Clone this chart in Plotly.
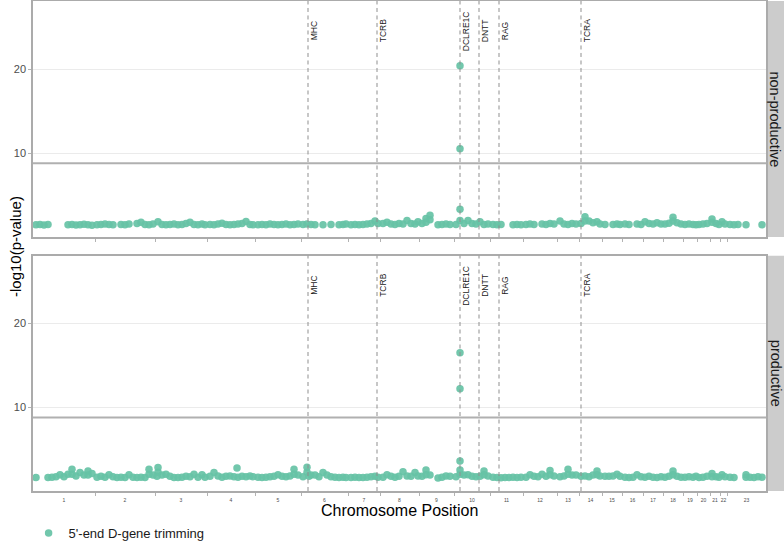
import plotly.graph_objects as go

# ---------------- data ----------------
chrom_labels = [str(i) for i in range(1, 24)]
# cumulative genome position of chromosome boundaries (arbitrary genome index units)
chrom_bounds = [0, 62, 122, 174, 222, 268, 315, 347, 386, 421, 457, 490, 524, 546,
                569, 589, 610, 630, 650, 664, 677, 687, 694, 733]

gene_names = ["MHC", "TCRB", "DCLRE1C", "DNTT", "RAG", "TCRA"]
gene_pos = [275, 344, 427, 446, 466, 548]

threshold = 8.77

snp_pos = [3, 7, 11, 15, 19, 23, 27, 31, 35, 39, 43, 47, 51, 55, 59,
           64, 68, 72, 76, 80, 84, 88, 92, 96, 100, 104, 108, 112, 116, 120,
           125, 129, 133, 137, 141, 145, 149, 153, 157, 161, 165, 169, 172,
           177, 181, 185, 189, 193, 197, 201, 205, 209, 213, 217, 220,
           225, 229, 233, 237, 241, 245, 249, 253, 257, 261, 265,
           270, 274, 278, 282, 286, 290, 294, 298, 302, 306, 310, 313,
           318, 322, 326, 330, 334, 338, 342, 345,
           350, 354, 358, 362, 366, 370, 374, 378, 382, 385,
           389, 393, 397, 401, 405, 409, 413, 417,
           423, 427, 431, 435, 439, 443, 447, 451, 455,
           460, 464, 468, 472, 476, 480, 484, 488,
           493, 497, 501, 505, 509, 513, 517, 521,
           527, 531, 535, 539, 543,
           548, 552, 556, 560, 564, 567,
           572, 576, 580, 584, 587,
           592, 596, 600, 604, 608,
           612, 616, 620, 624, 628,
           632, 636, 640, 644, 648,
           652, 656, 660, 663,
           666, 670, 674,
           679, 683, 686,
           689, 692,
           697, 701, 705, 709, 713, 717, 721, 725, 729]

N = None
nonprod_logp = [1.45, 1.5, 1.42, 1.48, N, N, N, N, 1.45, 1.5, 1.42, 1.47, 1.52, 1.45, 1.4,
                1.45, 1.5, 1.55, 1.48, 1.45, N, 1.5, 1.45, 1.55, N, 1.6, 1.75, 1.5, 1.45, 1.55,
                1.8, 1.5, 1.45, 1.5, 1.55, 1.45, 1.5, 1.6, 1.75, 1.5, 1.45, 1.55, 1.45,
                1.5, 1.45, 1.55, 1.65, 1.5, 1.45, 1.5, 1.55, 1.6, 1.85, 1.5, 1.45,
                1.45, 1.5, 1.45, 1.55, 1.5, 1.45, 1.5, 1.55, 1.45, 1.5, 1.55,
                1.5, 1.55, 1.5, 1.45, N, 1.45, N, 1.5, N, 1.45, 1.5, 1.55,
                1.45, 1.5, 1.45, 1.5, 1.55, 1.6, 1.9, 1.6,
                1.6, 1.75, 1.55, 1.5, 1.6, 1.55, 1.95, 1.6, 1.55, 1.8,
                1.6, 2.2, 2.6, N, 1.45, 1.5, 1.55, 1.5,
                1.5, 1.95, 1.6, 1.95, 1.6, 1.55, 1.8, 1.5, 1.55,
                1.5, 1.45, 1.5, N, N, 1.45, 1.5, 1.45,
                1.5, 1.55, 1.5, N, 1.55, 1.5, 1.6, 1.55,
                1.9, 1.55, 1.5, 1.6, 1.55,
                1.6, 2.4, 1.9, 1.7, 1.8, 1.55,
                1.5, N, 1.5, 1.55, 1.5,
                1.55, 1.5, N, 1.55, 1.5,
                1.8, 1.6, 1.55, 1.7, 1.55,
                1.55, 1.65, 2.35, 1.7, 1.55,
                1.5, 1.55, 1.5, 1.45,
                1.5, 1.55, 1.6,
                2.15, 1.6, 1.5,
                1.8, 1.55,
                1.5, 1.45, 1.5, N, 1.45, N, N, N, 1.45]

prod_logp = [1.6, N, N, 1.62, 1.65, 1.7, 1.95, 1.7, 2.0, 2.6, 1.8, 2.2, 1.9, 2.4, 2.1,
             1.65, 1.75, 1.65, 1.95, 1.7, 1.6, 1.65, 1.6, 1.95, 1.65, 1.6, 1.65, 1.62, 2.6, 1.9,
             2.8, 1.9, 2.0, 1.75, 1.6, 1.62, 1.65, 1.75, 1.7, 2.0, 1.65, 1.95, 1.65,
             1.75, 2.2, 1.8, 1.65, 1.75, 1.8, 1.7, 1.65, 1.75, 1.7, 1.8, 1.7,
             1.65, 1.6, 1.65, 1.7, 1.75, 1.95, 1.75, 1.7, 1.8, 2.6, 1.9,
             1.7, 2.85, 1.9, 1.9, 1.7, 2.2, 1.9, 1.7, 1.65, 1.6, 1.65, 1.6,
             1.6, 1.65, 1.6, 1.62, 1.65, 1.7, 1.75, 1.65,
             1.65, 1.95, 1.75, 1.65, 1.75, 2.3, 1.8, 1.75, 2.2, 1.8,
             1.75, 2.5, 1.9, N, 1.55, 1.65, 1.8, 1.75,
             1.7, 2.5, 1.9, 1.95, 1.75, 1.7, 1.75, 2.4, 1.8,
             1.65, 1.6, 1.58, 1.6, 1.62, 1.65, 1.62, 1.65,
             1.65, 1.95, 1.75, 1.7, 2.0, 1.75, 2.45, 1.8,
             1.7, 1.8, 2.6, 1.9, 1.9,
             1.75, 1.8, 1.7, 1.9, 2.4, 1.8,
             1.75, 1.75, 1.8, 2.0, 1.75,
             1.65, 1.62, 1.65, 1.95, 1.7,
             1.65, 1.75, 1.65, 1.62, 1.7,
             1.65, 1.75, 2.4, 1.75, 1.65,
             1.65, 1.7, 1.65, 1.75,
             1.62, 1.65, 1.75,
             2.1, 1.7, 1.65,
             1.95, 1.7,
             1.65, 1.6, N, N, 1.95, 1.65, 1.62, 1.7, 1.65]

# additional SNPs stacked inside local peaks, and isolated SNPs
nonprod_extra_pos = [397, 393, 552, 640, 679, 427, 427, 427]
nonprod_extra_logp = [2.05, 1.75, 1.9, 1.9, 1.75, 3.3, 10.5, 20.4]
prod_extra_pos = [39, 55, 116, 125, 124, 204, 261, 274, 276, 393, 427, 451, 517, 535,
                  564, 640, 679, 713, 427, 427, 427]
prod_extra_logp = [2.0, 1.9, 2.0, 2.25, 1.75, 2.74, 2.0, 2.25, 1.75, 1.95, 2.0, 1.95, 1.95, 2.0,
                   1.95, 1.95, 1.7, 1.65, 3.57, 12.2, 16.5]

# ---------------- figure ----------------
FONT = "Liberation Sans, Arial, sans-serif"
PT_COLOR = "#66c2a5"
BORDER = "#ababab"

# layout geometry (paper fractions)
TOP_DOM = [0.5184, 1.0]
BOT_DOM = [0.0, 0.4802]

fig = go.Figure()

panels = [
    ("non-productive", "x", "y", nonprod_logp, nonprod_extra_pos, nonprod_extra_logp, True),
    ("productive", "x2", "y2", prod_logp, prod_extra_pos, prod_extra_logp, False),
]
for name, xa, ya, vals, epos, evals, show in panels:
    xs = [p for p, v in zip(snp_pos, vals) if v is not None] + epos
    ys = [v for v in vals if v is not None] + evals
    fig.add_trace(go.Scatter(
        x=xs, y=ys, xaxis=xa, yaxis=ya, mode="markers",
        marker=dict(color=PT_COLOR, size=7.5, opacity=0.92, line=dict(width=0)),
        name="5'-end D-gene trimming", legendgroup="trim", showlegend=show,
    ))

centers = [(a + b) / 2 for a, b in zip(chrom_bounds[:-1], chrom_bounds[1:])]

def xaxis(show_labels, anchor):
    return dict(
        range=[0, 733], anchor=anchor, domain=[0, 1],
        showgrid=False, zeroline=False,
        showline=True, linecolor=BORDER, linewidth=1.5, mirror=True,
        tickmode="array", tickvals=centers, ticktext=chrom_labels,
        showticklabels=show_labels, ticks="outside", ticklen=3,
        tickcolor="rgba(0,0,0,0)",
        tickfont=dict(size=5, color="#4d4d4d", family=FONT),
        minor=dict(tickmode="array", tickvals=chrom_bounds[1:-1], ticks="outside",
                   ticklen=3, tickwidth=1, tickcolor="#b3b3b3", showgrid=False),
    )

def yaxis(domain, anchor):
    return dict(
        range=[0, 28.1], domain=domain, anchor=anchor,
        tickmode="array", tickvals=[10, 20],
        showgrid=True, gridcolor="#ebebeb", gridwidth=1, zeroline=False,
        showline=True, linecolor=BORDER, linewidth=1.5, mirror=True,
        ticks="outside", ticklen=3, tickcolor="#b3b3b3",
        tickfont=dict(size=11, color="#4d4d4d", family=FONT),
    )

shapes = []
annotations = []
for ya, xa, yref_dom, dom, strip_text in [("y", "x", "y domain", TOP_DOM, "non-productive"),
                                          ("y2", "x2", "y2 domain", BOT_DOM, "productive")]:
    # facet strip
    shapes.append(dict(type="rect", xref="paper", yref="paper", layer="below",
                       x0=(767 - 33) / 733, x1=(784 - 33) / 733, y0=dom[0], y1=dom[1],
                       fillcolor="#cccccc", line=dict(width=0)))
    annotations.append(dict(text=strip_text, xref="paper", yref="paper",
                            x=(775.5 - 33) / 733, y=(dom[0] + dom[1]) / 2, textangle=90,
                            xanchor="center", yanchor="middle", showarrow=False,
                            font=dict(size=14.5, color="#1a1a1a", family=FONT)))
    # significance threshold
    shapes.append(dict(type="line", xref=f"{xa} domain", yref=ya, x0=0, x1=1,
                       y0=threshold, y1=threshold, line=dict(color="#b0b0b0", width=2)))
    # gene lines and labels
    for g, p in zip(gene_names, gene_pos):
        shapes.append(dict(type="line", xref=xa, yref=yref_dom, x0=p, x1=p, y0=0, y1=1,
                           line=dict(color="#8f8f8f", width=1, dash="4px,3.5px")))
        annotations.append(dict(text=g, x=p, y=24.5, xref=xa, yref=ya, textangle=-90,
                                xanchor="left", yanchor="middle", showarrow=False,
                                xshift=-1, font=dict(size=8.5, color="#1a1a1a", family=FONT)))

annotations.append(dict(text="-log10(p-value)", xref="paper", yref="paper",
                        x=(15 - 33) / 733, y=(491 - 247) / 490, textangle=-90,
                        xanchor="center", yanchor="middle",
                        showarrow=False, font=dict(size=15, color="#000000", family=FONT)))
annotations.append(dict(text="Chromosome Position", xref="paper", yref="paper",
                        x=(399 - 33) / 733, y=(491 - 510) / 490,
                        xanchor="center", yanchor="middle", showarrow=False,
                        font=dict(size=16, color="#000000", family=FONT)))

fig.update_layout(
    width=784, height=542,
    margin=dict(l=33, r=18, t=1, b=51, autoexpand=False),
    paper_bgcolor="white", plot_bgcolor="white",
    font=dict(family=FONT),
    xaxis=xaxis(False, "y"),
    xaxis2=xaxis(True, "y2"),
    yaxis=yaxis(TOP_DOM, "x"),
    yaxis2=yaxis(BOT_DOM, "x2"),
    shapes=shapes, annotations=annotations,
    legend=dict(orientation="h", x=-0.006, y=(491 - 533) / 490, xanchor="left",
                yanchor="middle", font=dict(size=13, color="#1a1a1a", family=FONT),
                bgcolor="rgba(0,0,0,0)"),
    showlegend=True,
)

# remove the browser's default page margin so the 784x542 figure fills the window
fig.write_html("out.html",
               config={"displayModeBar": False},
               post_script="document.body.style.margin='0';document.body.style.padding='0';")
